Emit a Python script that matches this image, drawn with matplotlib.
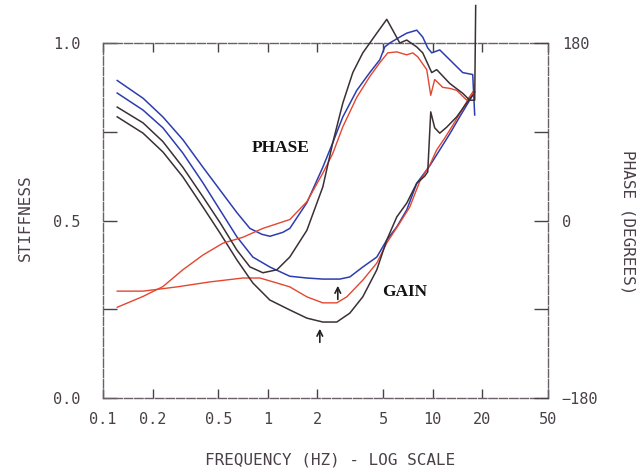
import matplotlib
matplotlib.use("Agg")
import matplotlib.pyplot as plt

# frequency (Hz) and stiffness / phase (deg)
blue_gain_f = [0.122, 0.175, 0.231, 0.305, 0.404, 0.512, 0.649, 0.811, 1.028, 1.359,
               1.724, 2.154, 2.731, 3.141, 3.765, 4.579, 5.263, 6.052, 6.957, 8.0,
               9.59, 11.03, 12.68, 14.57, 16.76, 17.97]
blue_gain = [0.859, 0.811, 0.761, 0.690, 0.606, 0.530, 0.454, 0.397, 0.369, 0.343,
             0.338, 0.335, 0.335, 0.341, 0.369, 0.397, 0.445, 0.482, 0.530, 0.605,
             0.654, 0.699, 0.744, 0.792, 0.839, 0.862]

blue_phase_f = [0.122, 0.175, 0.231, 0.305, 0.404, 0.512, 0.649, 0.778, 0.92, 1.03,
                1.233, 1.359, 1.724, 2.154, 2.477, 2.848, 3.463, 4.151, 4.774, 5.118,
                5.488, 6.31, 6.957, 8.0, 8.698, 9.326, 9.861, 11.03, 12.16, 13.98,
                15.2, 17.48, 17.97]
blue_phase = [142, 124, 105, 82, 54, 31, 8, -8, -14, -16,
              -12, -8, 18, 54, 79, 105, 132, 150, 163, 176,
              180, 186, 190, 193, 186, 175, 170, 173, 166, 156,
              150, 148, 107]

red_gain_f = [0.122, 0.175, 0.281, 0.445, 0.706, 0.895, 1.134, 1.359, 1.724, 2.154,
              2.619, 3.011, 3.765, 4.579, 5.263, 6.31, 7.255, 8.341, 9.59, 10.57,
              11.82, 13.59, 15.63, 17.48]
red_gain = [0.301, 0.301, 0.313, 0.327, 0.338, 0.338, 0.324, 0.313, 0.285, 0.268,
            0.268, 0.285, 0.332, 0.380, 0.437, 0.493, 0.538, 0.610, 0.656, 0.699,
            0.732, 0.777, 0.825, 0.862]

red_phase_f = [0.122, 0.175, 0.231, 0.305, 0.404, 0.534, 0.706, 0.933, 1.359, 1.724,
               2.154, 2.477, 2.848, 3.463, 4.151, 4.774, 5.337, 6.052, 6.957, 7.566,
               8.112, 9.196, 9.725, 10.28, 11.5, 12.68, 13.98, 16.07, 17.48]
red_phase = [-88, -77, -67, -50, -35, -23, -17, -8, 1, 19,
             48, 68, 95, 125, 146, 160, 170, 171, 168, 170,
             166, 153, 127, 143, 135, 134, 132, 122, 129]

black_gain_f = [0.122, 0.175, 0.231, 0.305, 0.404, 0.512, 0.649, 0.811, 1.028, 1.359,
                1.724, 2.154, 2.619, 3.141, 3.765, 4.579, 5.263, 6.052, 6.957, 8.0,
                8.944, 9.326, 9.725, 10.28, 11.03, 12.16, 13.98, 16.07, 17.48]
black_gain = [0.792, 0.746, 0.693, 0.623, 0.538, 0.465, 0.389, 0.324, 0.276, 0.248,
              0.225, 0.214, 0.214, 0.239, 0.285, 0.361, 0.445, 0.510, 0.549, 0.605,
              0.625, 0.637, 0.806, 0.761, 0.746, 0.763, 0.792, 0.831, 0.854]

black_phase_f = [0.122, 0.175, 0.231, 0.305, 0.404, 0.512, 0.649, 0.778, 0.933, 1.134,
                 1.359, 1.724, 2.154, 2.477, 2.848, 3.275, 3.765, 4.579, 5.263, 5.723,
                 6.31, 6.957, 8.0, 8.698, 9.861, 10.57, 12.68, 15.2, 16.76, 17.97,
                 18.22]
black_phase = [115, 99, 80, 54, 24, -2, -30, -47, -53, -50,
               -37, -10, 34, 79, 119, 150, 170, 190, 204, 193,
               180, 183, 176, 170, 150, 153, 139, 129, 122, 122,
               218]

xticks = [0.1, 0.2, 0.5, 1, 2, 5, 10, 20, 50]
xticklabels = ['0.1', '0.2', '0.5', '1', '2', '5', '10', '20', '50']

BLUE = '#2d3db0'
RED = '#e4462f'
BLACK = '#3a3036'
INK = '#4a4048'
mono = 'DejaVu Sans Mono'

fig = plt.figure(figsize=(6.38, 4.70), dpi=100)
ax = fig.add_axes([0.1614, 0.1532, 0.6975, 0.7553])
ax2 = ax.twinx()

ax.set_xscale('log')
ax.set_xlim(0.1, 50)
ax.set_ylim(0, 1)
ax2.set_ylim(-180, 180)

# gain curves on stiffness axis
ax.plot(blue_gain_f, blue_gain, color=BLUE, lw=1.1, clip_on=False)
ax.plot(red_gain_f, red_gain, color=RED, lw=1.0, clip_on=False)
ax.plot(black_gain_f, black_gain, color=BLACK, lw=1.1, clip_on=False)
# phase curves on degree axis
ax2.plot(blue_phase_f, blue_phase, color=BLUE, lw=1.1, clip_on=False)
ax2.plot(red_phase_f, red_phase, color=RED, lw=1.0, clip_on=False)
ax2.plot(black_phase_f, black_phase, color=BLACK, lw=1.1, clip_on=False)

ax.set_xticks(xticks)
ax.set_xticklabels(xticklabels, fontfamily=mono, fontsize=11, color=INK)
ax.minorticks_off()
ax.set_yticks([0, 0.25, 0.5, 0.75, 1.0])
ax.set_yticklabels(['0.0', '', '0.5', '', '1.0'], fontfamily=mono, fontsize=11, color=INK)
ax2.set_yticks([-180, -90, 0, 90, 180])
ax2.set_yticklabels(['\u2212180', '', '0', '', '180'], fontfamily=mono, fontsize=11, color=INK)

ax.tick_params(axis='x', direction='in', top=True, length=6.5, width=1.0, color=INK, pad=10)
ax.tick_params(axis='y', direction='in', length=10, width=1.0, color=INK, pad=16)
ax2.tick_params(axis='y', direction='in', length=10, width=1.0, color=INK, pad=10)

for s in ax.spines.values():
    s.set_color('#6a6068')
    s.set_linewidth(1.0)
    s.set_linestyle((0, (6, 1.5)))
for s in ax2.spines.values():
    s.set_visible(False)

fig.text(25/638, 1-218/470, 'STIFFNESS', rotation=90, ha='center', va='center',
         fontfamily=mono, fontsize=11.5, color=INK)
fig.text(628/638, 1-222/470, 'PHASE (DEGREES)', rotation=270, ha='center', va='center',
         fontfamily=mono, fontsize=11.5, color=INK)
fig.text(330/638, 1-460/470, 'FREQUENCY (HZ) - LOG SCALE', ha='center', va='center',
         fontfamily=mono, fontsize=11.5, color=INK)

ax.text(1.2, 0.704, 'PHASE', ha='center', va='center', fontfamily='Liberation Serif',
        fontweight='bold', fontsize=12.5, color='#111111')
ax.text(6.77, 0.299, 'GAIN', ha='center', va='center', fontfamily='Liberation Serif',
        fontweight='bold', fontsize=12.5, color='#111111')

ax.annotate('', xy=(2.066, 0.203), xytext=(2.066, 0.149),
            arrowprops=dict(arrowstyle='->', color='#222222', lw=1.2))
ax.annotate('', xy=(2.656, 0.324), xytext=(2.656, 0.270),
            arrowprops=dict(arrowstyle='->', color='#222222', lw=1.2))

fig.savefig('out.png', dpi=100)
